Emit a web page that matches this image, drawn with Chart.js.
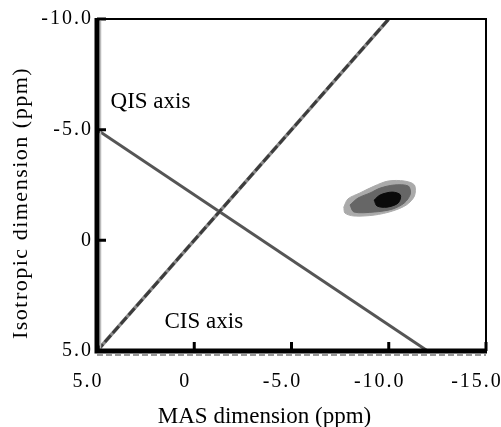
<!DOCTYPE html>
<html><head><meta charset="utf-8">
<script src="https://cdn.jsdelivr.net/npm/chart.js@4/dist/chart.umd.min.js"></script>
<style>html,body{margin:0;padding:0;background:#fff;}canvas{display:block;}</style>
</head><body>
<canvas id="c" width="501" height="427"></canvas>
<script>
// Axis ticks (ppm)
const xTicks = [5, 0, -5, -10, -15];
const yTicks = [-10, -5, 0, 5];
// CIS axis (slope 1) and QIS axis (slope -10/17)
const cisX = [5, -10];
const cisY = [5, -10];
const qisX = [5, -12];
const qisY = [-5, 5];
// Peak contours (ppm): outer, middle, inner
const outerX = [-7.69,-7.90,-8.52,-9.25,-9.97,-10.80,-11.32,-11.32,-10.91,-10.18,-9.25,-8.21,-7.75];
const outerY = [-1.50,-1.87,-2.14,-2.45,-2.68,-2.68,-2.50,-2.00,-1.60,-1.32,-1.14,-1.10,-1.23];
const midX = [-8.01,-8.42,-9.04,-9.56,-10.28,-11.01,-11.11,-10.80,-10.18,-9.25,-8.21];
const midY = [-1.60,-1.91,-2.14,-2.36,-2.50,-2.45,-2.09,-1.69,-1.41,-1.28,-1.28];
const coreX = [-9.25,-9.56,-10.18,-10.60,-10.49,-9.92,-9.40];
const coreY = [-1.82,-2.05,-2.18,-2.05,-1.69,-1.50,-1.55];
// Text labels
const labelText = ["QIS axis", "CIS axis"];
const labelX = [2.25, -0.49];
const labelY = [-6.25, 3.69];
const xTitle = "MAS dimension (ppm)";
const yTitle = "Isotropic dimension (ppm)";

function pts(xs, ys, close) {
  const p = xs.map((x, i) => ({x: x, y: ys[i]}));
  if (close) p.push({x: xs[0], y: ys[0]});
  return p;
}
const FONT = "'Liberation Serif', 'Times New Roman', serif";

const framePlugin = {
  id: 'frame',
  beforeDraw(chart) {
    chart.ctx.letterSpacing = '2px';
  },
  afterDatasetsDraw(chart) {
    const {ctx, chartArea: a, scales: {x, y}} = chart;
    ctx.save();
    ctx.lineCap = 'butt';
    // soft grey shadow lines along the left and bottom axes
    ctx.strokeStyle = '#999';
    ctx.lineWidth = 2;
    ctx.setLineDash([6, 3]);
    ctx.beginPath();
    ctx.moveTo(a.left, a.bottom + 4); ctx.lineTo(a.right, a.bottom + 4);
    ctx.stroke();
    ctx.setLineDash([]);
    ctx.strokeStyle = '#bbb';
    ctx.lineWidth = 1.5;
    ctx.beginPath();
    ctx.moveTo(a.left + 3.5, a.top + 2); ctx.lineTo(a.left + 3.5, a.bottom);
    ctx.stroke();
    ctx.strokeStyle = '#000';
    // top & right thin
    ctx.lineWidth = 2;
    ctx.beginPath();
    ctx.moveTo(a.left, a.top); ctx.lineTo(a.right, a.top); ctx.lineTo(a.right, a.bottom);
    ctx.stroke();
    // left & bottom thick
    ctx.lineWidth = 5;
    ctx.beginPath();
    ctx.moveTo(a.left, a.top - 1); ctx.lineTo(a.left, a.bottom); ctx.lineTo(a.right + 1, a.bottom);
    ctx.stroke();
    // inward ticks
    ctx.lineWidth = 3;
    ctx.beginPath();
    xTicks.forEach(v => { const px = x.getPixelForValue(v); ctx.moveTo(px, a.bottom); ctx.lineTo(px, a.bottom - 9); });
    yTicks.forEach(v => { const py = y.getPixelForValue(v); ctx.moveTo(a.left, py); ctx.lineTo(a.left + 9, py); });
    ctx.stroke();
    // in-plot labels
    ctx.fillStyle = '#000';
    ctx.letterSpacing = '0px';
    ctx.font = "23px " + FONT;
    ctx.textAlign = 'center';
    ctx.textBaseline = 'middle';
    labelText.forEach((t, i) => ctx.fillText(t, x.getPixelForValue(labelX[i]), y.getPixelForValue(labelY[i])));
    // axis titles
    ctx.font = "23px " + FONT;
    ctx.fillText(xTitle, (a.left + a.right) / 2 - 27, a.bottom + 66);
    ctx.save();
    ctx.translate(a.left - 76, (a.top + a.bottom) / 2 + 18);
    ctx.rotate(-Math.PI / 2);
    ctx.font = "22px " + FONT;
    ctx.letterSpacing = '1.5px';
    ctx.fillText(yTitle, 0, 0);
    ctx.restore();
    ctx.restore();
  }
};

new Chart(document.getElementById('c'), {
  type: 'scatter',
  data: {
    datasets: [
      {data: pts(cisX, cisY), showLine: true, borderColor: '#3c3c3c', borderWidth: 3, pointRadius: 0, borderDash: [9, 3]},
      {data: pts(cisX, cisY), showLine: true, borderColor: '#8a8a8a', borderWidth: 3.5, pointRadius: 0},
      {data: pts(qisX, qisY), showLine: true, borderColor: '#555', borderWidth: 3, pointRadius: 0},
      {data: pts(coreX, coreY, true), showLine: true, fill: 'shape', backgroundColor: '#0a0a0a', borderColor: '#0a0a0a', borderWidth: 1, pointRadius: 0, tension: 0.3},
      {data: pts(midX, midY, true), showLine: true, fill: 'shape', backgroundColor: '#666', borderColor: '#666', borderWidth: 1, pointRadius: 0, tension: 0.3},
      {data: pts(outerX, outerY, true), showLine: true, fill: 'shape', backgroundColor: '#aaa', borderColor: '#aaa', borderWidth: 1, pointRadius: 0, tension: 0.3}
    ]
  },
  options: {
    responsive: false,
    animation: false,
    layout: {padding: {top: 19, right: 15, left: 0, bottom: 0}},
    plugins: {legend: {display: false}, tooltip: {enabled: false}},
    scales: {
      x: {
        type: 'linear', min: -15, max: 5, reverse: true,
        afterFit(s) { s.height = 76; s.paddingLeft = 0; s.paddingRight = 0; },
        afterBuildTicks(s) { s.ticks = xTicks.map(v => ({value: v})); },
        grid: {display: false, drawTicks: false}, border: {display: false},
        ticks: {color: '#000', font: {family: FONT, size: 20}, padding: 19, labelOffset: -9,
          maxRotation: 0, autoSkip: false,
          callback: v => v === 0 ? '0' : v.toFixed(1)},
        title: {display: false}
      },
      y: {
        type: 'linear', min: -10, max: 5, reverse: true,
        afterFit(s) { s.width = 97; s.paddingTop = 0; s.paddingBottom = 0; },
        afterBuildTicks(s) { s.ticks = yTicks.map(v => ({value: v})); },
        grid: {display: false, drawTicks: false}, border: {display: false},
        ticks: {color: '#000', font: {family: FONT, size: 20}, padding: 4, autoSkip: false,
          callback: v => v === 0 ? '0' : v.toFixed(1)},
        title: {display: false}
      }
    }
  },
  plugins: [framePlugin]
});
</script>
</body></html>
